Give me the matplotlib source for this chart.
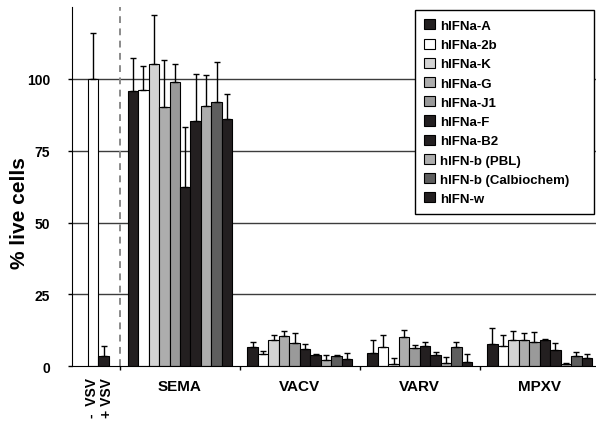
import matplotlib
matplotlib.use('Agg')
import matplotlib.pyplot as plt
import numpy as np

plt.rcParams['font.family'] = ['Liberation Sans', 'DejaVu Sans']
plt.rcParams['font.weight'] = 'bold'

ifn_names = ['hIFNa-A', 'hIFNa-2b', 'hIFNa-K', 'hIFNa-G', 'hIFNa-J1',
             'hIFNa-F', 'hIFNa-B2', 'hIFN-b (PBL)', 'hIFN-b (Calbiochem)', 'hIFN-w']
ifn_colors = ['#231f20', '#ffffff', '#d3d3d3', '#adadad', '#9a9a9a',
              '#231f20', '#231f20', '#adadad', '#5e5e5e', '#231f20']

virus_names = ['SEMA', 'VACV', 'VARV', 'MPXV']

# mean % live cells and upper error per interferon
sema_mean = [95.8, 96.0, 105.1, 90.3, 99.1, 62.3, 85.5, 90.6, 92.0, 86.0]
sema_err = [11.5, 8.6, 17.1, 16.3, 6.1, 21.1, 16.3, 10.7, 13.8, 8.9]
vacv_mean = [6.6, 4.2, 9.3, 10.6, 8.0, 6.1, 4.0, 2.1, 3.7, 2.4]
vacv_err = [1.9, 1.0, 1.5, 1.5, 3.6, 1.6, 0.3, 1.9, 0.3, 2.1]
varv_mean = [4.7, 6.7, 0.8, 10.3, 6.5, 6.9, 3.8, 1.1, 6.7, 1.5]
varv_err = [4.6, 4.3, 2.0, 2.3, 0.9, 1.4, 1.1, 2.1, 1.9, 2.9]
mpxv_mean = [7.8, 7.1, 9.0, 9.0, 8.3, 9.3, 5.8, 0.7, 3.4, 2.8]
mpxv_err = [5.4, 3.8, 3.2, 2.6, 3.7, 0.3, 2.3, 0.4, 1.6, 1.6]

# VSV controls
vsv_labels = ['-  VSV', '+ VSV']
vsv_mean = [100.0, 3.7]
vsv_err = [16.0, 3.5]
vsv_colors = ['#ffffff', '#231f20']

means = [sema_mean, vacv_mean, varv_mean, mpxv_mean]
errs = [sema_err, vacv_err, varv_err, mpxv_err]

dpi = 100
fig = plt.figure(figsize=(596 / dpi, 427 / dpi), dpi=dpi)
ax = fig.add_axes([0.121, 0.14, 0.879, 0.841])

w = 0.0875
centers = np.arange(len(virus_names)) + 1.5
ekw = dict(ecolor='black', elinewidth=1, capsize=2.2, capthick=1)

for yv in [25, 50, 75, 100]:
    ax.axhline(yv, color='#3c3c3c', lw=1, zorder=0)

# VSV control bars
vsv_x = [0.775, 0.8625]
ax.bar(vsv_x, vsv_mean, w, color=vsv_colors, edgecolor='black', lw=0.8,
       yerr=[[0, 0], vsv_err], error_kw=ekw, zorder=2)

for k in range(len(ifn_names)):
    xs = centers + (k - 4.5) * w
    ys = [m[k] for m in means]
    es = [e[k] for e in errs]
    ax.bar(xs, ys, w, color=ifn_colors[k], edgecolor='black', lw=0.8,
           yerr=[[0] * len(es), es], error_kw=ekw, label=ifn_names[k], zorder=2)

ax.axvline(1.0, color='#8a8a8a', lw=1.4, ls=(0, (3.5, 2.8)), zorder=1)

ax.set_xlim(0.6, 4.97)
ax.set_ylim(0, 125)
ax.spines['top'].set_visible(False)
ax.spines['right'].set_visible(False)
ax.set_xticks([1, 2, 3, 4])
ax.set_xticklabels([])
ax.tick_params(axis='x', length=3, width=1)
ax.set_yticks([0, 25, 50, 75, 100])
ax.set_yticklabels(['0', '25', '50', '75', '100'], fontsize=10, fontweight='bold')
ax.tick_params(axis='y', length=3, width=1, pad=13)
ax.set_ylabel('% live cells', fontsize=15, fontweight='bold')
ax.yaxis.set_label_coords(-0.083, 0.43)

trans = ax.get_xaxis_transform()
for xv, lab in zip([0.765, 0.89], vsv_labels):
    ax.text(xv, -0.03, lab, transform=trans, rotation=90, ha='center', va='top',
            fontsize=10, fontweight='bold')
for xv, lab in zip(centers, virus_names):
    ax.text(xv, -0.035, lab, transform=trans, ha='center', va='top',
            fontsize=11, fontweight='bold')

leg = ax.legend(loc='upper left', bbox_to_anchor=(0.696, 0.0, 0.300, 0.974),
                bbox_transform=fig.transFigure, borderaxespad=0, mode='expand',
                fancybox=False, framealpha=1, edgecolor='black',
                handlelength=0.8, handleheight=0.8, handletextpad=0.4,
                labelspacing=0.5, borderpad=0.7,
                prop={'size': 9.5, 'weight': 'bold'})
leg.get_frame().set_linewidth(1)
for h in leg.legend_handles:
    h.set_linewidth(0.8)

fig.savefig('out.png', dpi=dpi)
